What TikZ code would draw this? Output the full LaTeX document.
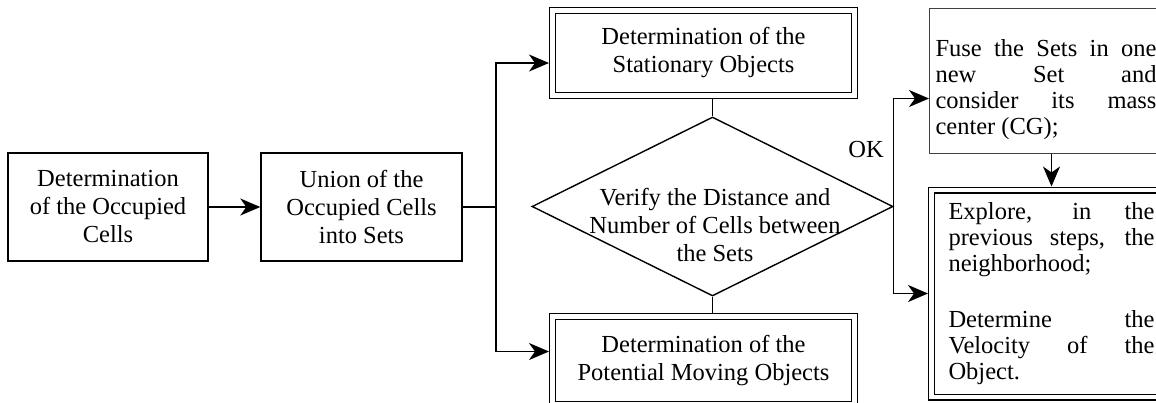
\documentclass[tikz,border=0pt]{standalone}
\usepackage{fontspec}
\setmainfont{Liberation Serif}
\usetikzlibrary{positioning, calc, shapes.geometric, arrows.meta}
\setlength{\parindent}{0pt}
\tikzset{
	arrow/.style={line width=1.4pt, -{Stealth[length=20pt, width=17pt, inset=6pt]}},
	link/.style={line width=1.4pt},
	box/.style={draw, line width=1.4pt, align=center, font=\fontsize{24.5}{28}\selectfont},
	dbox/.style={box, double, double distance=4.2pt, line width=1.4pt, outer sep=3.5pt},
	decision/.style={draw, diamond, line width=1.4pt, minimum width=361pt, minimum height=179pt, inner sep=0pt},
	notebox/.style={align=justify, font=\fontsize{24.5}{26}\selectfont},
}

\begin{document}
\begin{tikzpicture}[x=1pt, y=-1pt]
	\useasboundingbox (0,0) rectangle (1156,402);
	\clip (0,0) rectangle (1156,402);

	\node[box, minimum width=200pt, minimum height=108pt] (occupied) at (108,207) {Determination\\of the Occupied\\Cells};
	\node[box, minimum width=201pt, minimum height=108pt] (union) at (361.5,207) {Union of the\\Occupied Cells\\into Sets};

	\node[dbox, minimum width=302pt, minimum height=85pt] (stationary) at (703.5,53) {Determination of the\\Stationary Objects};
	\node[decision] (verify) at (712.5,206.5) {};
	\node[align=center, font=\fontsize{24.5}{28}\selectfont] (verifytext) at (715,225) {Verify the Distance and\\Number of Cells between\\the Sets};
	\node[dbox, minimum width=302pt, minimum height=88pt] (moving) at (703.5,360.5) {Determination of the\\Potential Moving Objects};

	\node[font=\fontsize{24.5}{28}\selectfont] (ok) at (866,150) {OK};

	\node[notebox, draw=black!75, line width=1pt, text width=221pt, inner xsep=6pt, minimum height=145pt, anchor=north west] (fuse) at (929,8)
		{\rule{0pt}{34pt}Fuse the Sets in one\linebreak new Set and\linebreak consider its mass\linebreak center (CG);};
	\node[dbox, notebox, text width=206pt, inner xsep=17pt, minimum height=207pt, anchor=west] (explore) at (928,293.5)
		{Explore, in the\linebreak previous steps, the\linebreak neighborhood;\par\vspace{30pt}Determine the\linebreak Velocity of the\linebreak Object.};

	% connectors
	\draw[arrow] (occupied) -- (union);
	\coordinate (split) at (496,207);
	\draw[link] (union) -- (split);
	\draw[arrow] (split) |- ($(stationary.west)+(0,10)$);
	\draw[arrow] (split) |- ($(moving.west)+(0,-9)$);
	\draw[link] (stationary.south -| verify.north) -- (verify.north);
	\draw[link] (verify.south) -- (moving.north -| verify.south);
	\draw[arrow] (verify.east) |- ($(fuse.west)+(0,17.5)$);
	\draw[arrow] (verify.east) |- (explore.west);
	\draw[arrow] (fuse.south -| explore.north) -- (explore.north);
\end{tikzpicture}
\end{document}
